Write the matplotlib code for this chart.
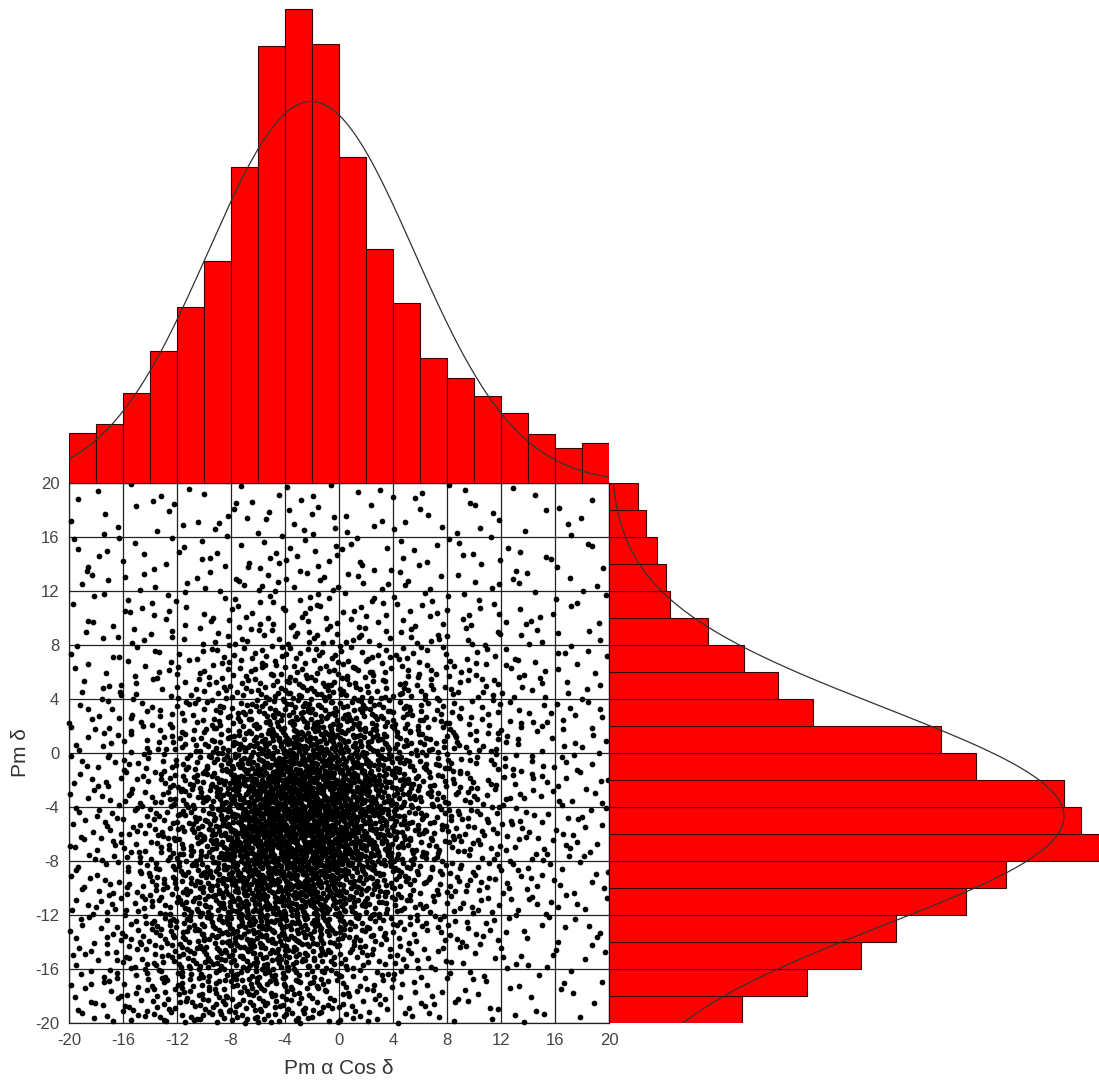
import numpy as np
import matplotlib
matplotlib.use("Agg")
import matplotlib.pyplot as plt

plt.rcParams['font.family'] = ['Liberation Sans', 'DejaVu Sans']

# Histogram of Pm alpha cos(delta), bins of width 2 from -20 to 20
x_edges = np.arange(-20, 21, 2)
x_counts = [63, 74, 113, 165, 221, 279, 397, 548, 595, 551,
            409, 294, 226, 157, 132, 109, 88, 62, 44, 50]

# Histogram of Pm delta, bins of width 2 from -20 to 20 (bottom to top)
y_edges = np.arange(-20, 21, 2)
y_counts = [133, 198, 252, 287, 357, 397, 490, 472, 455, 367,
            332, 204, 169, 135, 99, 61, 57, 48, 37, 29]

# Star counts per 4x4 cell of the proper-motion plane
# rows: Pm delta from 20 down to -20; columns: Pm alpha cos(delta) from -20 to 20
cell_edges = np.arange(-20, 21, 4)
cell_counts = [
    [6, 7, 8, 9, 10, 8, 8, 7, 5, 5],
    [12, 7, 12, 16, 17, 12, 11, 10, 8, 7],
    [9, 13, 16, 20, 24, 21, 17, 14, 11, 8],
    [11, 18, 28, 42, 52, 42, 32, 25, 18, 11],
    [18, 28, 45, 85, 125, 95, 55, 35, 20, 14],
    [20, 36, 75, 185, 260, 165, 70, 38, 22, 16],
    [22, 40, 90, 230, 290, 165, 70, 40, 24, 16],
    [22, 45, 95, 180, 190, 105, 50, 32, 20, 13],
    [22, 50, 90, 125, 100, 55, 30, 20, 13, 10],
    [20, 40, 60, 75, 55, 30, 20, 12, 9, 6],
]

tick_values = [-20, -16, -12, -8, -4, 0, 4, 8, 12, 16, 20]


def radical_inverse(k, base):
    out = np.zeros(len(k))
    f = 1.0 / base
    k = k.copy()
    while np.any(k > 0):
        out += f * (k % base)
        k //= base
        f /= base
    return out


def place_stars(table, edges):
    """Place the tabulated stars over a smooth density built from the cell table."""
    counts = np.asarray(table, float)[::-1]          # bottom row first
    centers = 0.5 * (edges[:-1] + edges[1:])
    fine = np.linspace(edges[0], edges[-1], 801)
    # bilinear surface through the cell centres
    rows = np.array([np.interp(fine, centers, r) for r in counts])
    dens = np.array([np.interp(fine, centers, rows[:, j]) for j in range(len(fine))]).T
    n = int(counts.sum())
    k = np.arange(1, n + 1)
    u = radical_inverse(k, 2)
    v = radical_inverse(k, 3)
    # Pm delta from the row marginal, then Pm alpha cos(delta) from that row
    cy = np.cumsum(dens.sum(axis=1))
    cy = (cy - cy[0]) / (cy[-1] - cy[0])
    ys = np.interp(u, cy, fine)
    idx = np.clip(np.searchsorted(fine, ys), 0, len(fine) - 1)
    xs = np.empty(n)
    for i in range(n):
        cx = np.cumsum(dens[idx[i]])
        cx = (cx - cx[0]) / (cx[-1] - cx[0])
        xs[i] = np.interp(v[i], cx, fine)
    return xs, ys


xs, ys = place_stars(cell_counts, cell_edges)


def normal_fit(edges, counts, grid):
    centers = 0.5 * (edges[:-1] + edges[1:])
    w = np.asarray(counts, float)
    mu = np.sum(w * centers) / w.sum()
    sd = np.sqrt(np.sum(w * (centers - mu) ** 2) / w.sum())
    bw = edges[1] - edges[0]
    amp = w.sum() * bw / (sd * np.sqrt(2 * np.pi))
    return amp * np.exp(-0.5 * ((grid - mu) / sd) ** 2)


W, H = 1099, 1081
fig = plt.figure(figsize=(W / 100, H / 100), dpi=100)

L, R, T, B = 69, 609, 483, 1023
ax = fig.add_axes([L / W, (H - B) / H, (R - L) / W, (B - T) / H])
ax_top = fig.add_axes([L / W, (H - T) / H, (R - L) / W, T / H])
ax_right = fig.add_axes([R / W, (H - B) / H, (W - R) / W, (B - T) / H])

# Scatter panel
ax.scatter(xs, ys, s=17, c='black', linewidths=0, zorder=3, clip_on=False)
ax.set_xlim(-20, 20)
ax.set_ylim(-20, 20)
ax.set_xticks(tick_values)
ax.set_yticks(tick_values)
ax.set_xticklabels([str(t) for t in tick_values])
ax.set_yticklabels([str(t) for t in tick_values])
ax.grid(True, color='#222222', linewidth=0.9)
ax.set_axisbelow(True)
ax.tick_params(length=0, labelsize=12, labelcolor='#444444', pad=7)
for sp in ax.spines.values():
    sp.set_color('#222222')
    sp.set_linewidth(0.9)
ax.set_xlabel('Pm \u03b1 Cos \u03b4', fontsize=15, color='#333333', labelpad=8)
ax.set_ylabel('Pm \u03b4', fontsize=15, color='#333333', labelpad=4)

# Top histogram
ax_top.bar(x_edges[:-1], x_counts, width=2, align='edge', color='#ff0000',
           edgecolor='#3a0000', linewidth=0.8)
gx = np.linspace(-20, 20, 400)
ax_top.plot(gx, normal_fit(x_edges, x_counts, gx), color='#333333', linewidth=0.9)
ax_top.set_xlim(-20, 20)
ax_top.set_ylim(0, 606)
ax_top.axis('off')

# Right histogram
ax_right.barh(y_edges[:-1], y_counts, height=2, align='edge', color='#ff0000',
              edgecolor='#3a0000', linewidth=0.8)
gy = np.linspace(-20, 20, 400)
ax_right.plot(normal_fit(y_edges, y_counts, gy), gy, color='#333333', linewidth=0.9)
ax_right.set_ylim(-20, 20)
ax_right.set_xlim(0, 490)
ax_right.axis('off')

fig.savefig('out.png', dpi=100, facecolor='white')
